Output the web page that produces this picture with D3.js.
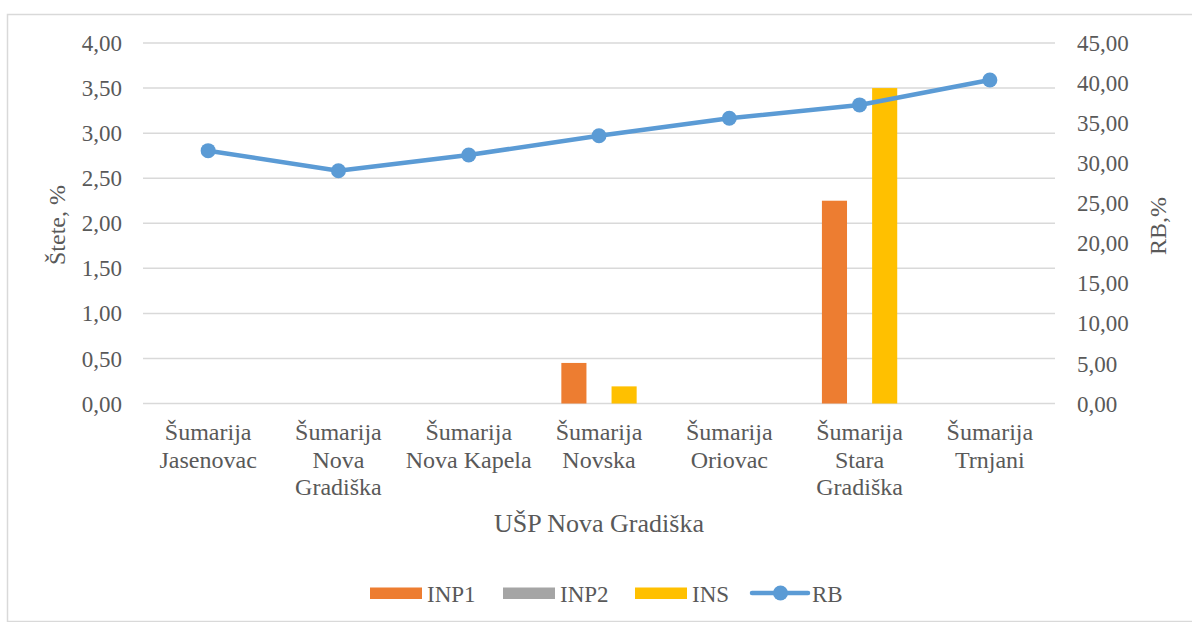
<!DOCTYPE html>
<html>
<head>
<meta charset="utf-8">
<script src="https://cdn.jsdelivr.net/npm/d3@7"></script>
<style>
  html, body { margin: 0; padding: 0; background: #fff; }
  svg { display: block; }
  text { font-family: "Liberation Serif", "Times New Roman", serif; fill: #595959; }
</style>
</head>
<body>
<svg id="chart" width="1192" height="622"></svg>
<script>
// Forestry offices of UŠP Nova Gradiška
const categories = [
  ["Šumarija", "Jasenovac"],
  ["Šumarija", "Nova", "Gradiška"],
  ["Šumarija", "Nova Kapela"],
  ["Šumarija", "Novska"],
  ["Šumarija", "Oriovac"],
  ["Šumarija", "Stara", "Gradiška"],
  ["Šumarija", "Trnjani"]
];
// damage shares (left axis, %)
const inp1 = [0, 0, 0, 0.45, 0, 2.25, 0];
const inp2 = [0, 0, 0, 0, 0, 0, 0];
const ins  = [0, 0, 0, 0.19, 0, 3.50, 0];
// RB (right axis, %)
const rb = [31.56, 29.06, 31.02, 33.43, 35.60, 37.27, 40.39];

const leftTicks = [0, 0.5, 1, 1.5, 2, 2.5, 3, 3.5, 4];
const rightTicks = [0, 5, 10, 15, 20, 25, 30, 35, 40, 45];
const seriesNames = ["INP1", "INP2", "INS"];
const seriesColors = ["#ED7D31", "#A5A5A5", "#FFC000"];
const lineColor = "#5B9BD5";

const fmt = v => v.toFixed(2).replace(".", ",");

const svg = d3.select("#chart");

// outer chart frame
svg.append("rect")
  .attr("x", 7.5).attr("y", 14.5)
  .attr("width", 1200).attr("height", 607)
  .attr("fill", "none").attr("stroke", "#d9d9d9").attr("stroke-width", 1.5);

const plot = { left: 143, right: 1055, top: 43, bottom: 403.5 };

const x = d3.scaleBand()
  .domain(d3.range(categories.length))
  .range([plot.left, plot.right])
  .paddingInner(0).paddingOuter(0);

const yL = d3.scaleLinear().domain([0, 4]).range([plot.bottom, plot.top]);
const yR = d3.scaleLinear().domain([0, 45]).range([plot.bottom, plot.top]);

// bar cluster inside each category, 219% gap width
const gapWidth = 2.19;
const clusterW = x.bandwidth() * 3 / (3 + gapWidth);
const sub = d3.scaleBand().domain(seriesNames).range([0, clusterW]).padding(0);
const groupOffset = (x.bandwidth() - clusterW) / 2;

// gridlines
svg.append("g")
  .selectAll("line")
  .data(leftTicks)
  .join("line")
  .attr("x1", plot.left).attr("x2", plot.right)
  .attr("y1", d => yL(d)).attr("y2", d => yL(d))
  .attr("stroke", "#d9d9d9").attr("stroke-width", 1.5);

// left axis
const leftAxis = svg.append("g")
  .attr("transform", `translate(${plot.left - 21},0)`)
  .call(d3.axisLeft(yL).tickValues(leftTicks).tickFormat(fmt).tickSize(0).tickPadding(0));
leftAxis.select(".domain").remove();
leftAxis.selectAll("text")
  .style("font-family", "Liberation Serif, serif")
  .style("font-size", "23px")
  .attr("fill", "#595959")
  .attr("dy", "0.33em");

// right axis
const rightAxis = svg.append("g")
  .attr("transform", `translate(${plot.right + 22},0)`)
  .call(d3.axisRight(yR).tickValues(rightTicks).tickFormat(fmt).tickSize(0).tickPadding(0));
rightAxis.select(".domain").remove();
rightAxis.selectAll("text")
  .style("font-family", "Liberation Serif, serif")
  .style("font-size", "23px")
  .attr("fill", "#595959")
  .attr("dy", "0.33em");

// bars
const seriesData = [inp1, inp2, ins];
seriesNames.forEach((name, si) => {
  svg.append("g")
    .selectAll("rect")
    .data(seriesData[si].map((v, i) => ({ v, i })).filter(d => d.v > 0))
    .join("rect")
    .attr("x", d => x(d.i) + groupOffset + sub(name))
    .attr("width", sub.bandwidth())
    .attr("y", d => yL(d.v))
    .attr("height", d => yL(0) - yL(d.v))
    .attr("fill", seriesColors[si]);
});

// RB line
const line = d3.line()
  .x((d, i) => x(i) + x.bandwidth() / 2)
  .y(d => yR(d));
svg.append("path")
  .datum(rb)
  .attr("d", line)
  .attr("fill", "none")
  .attr("stroke", lineColor)
  .attr("stroke-width", 4.5)
  .attr("stroke-linejoin", "round");
svg.append("g")
  .selectAll("circle")
  .data(rb)
  .join("circle")
  .attr("cx", (d, i) => x(i) + x.bandwidth() / 2)
  .attr("cy", d => yR(d))
  .attr("r", 7.5)
  .attr("fill", lineColor);

// category labels
const catG = svg.append("g");
categories.forEach((lines, i) => {
  const cx = x(i) + x.bandwidth() / 2;
  const t = catG.append("text")
    .attr("transform", `translate(${cx},440)`)
    .attr("text-anchor", "middle")
    .style("font-size", "24px");
  lines.forEach((s, k) => {
    t.append("tspan").attr("x", 0).attr("y", k * 27.5).text(s);
  });
});

// x axis title
svg.append("text")
  .attr("transform", `translate(${(plot.left + plot.right) / 2},532)`)
  .attr("text-anchor", "middle")
  .style("font-size", "26px")
  .text("UŠP Nova Gradiška");

// y axis titles
svg.append("text")
  .attr("transform", "translate(65,225) rotate(-90)")
  .attr("text-anchor", "middle")
  .style("font-size", "24px")
  .text("Štete, %");
svg.append("text")
  .attr("transform", "translate(1166,226) rotate(-90)")
  .attr("text-anchor", "middle")
  .style("font-size", "24px")
  .text("RB,%");

// legend
const legend = svg.append("g");
const legendItems = [
  { name: "INP1", color: seriesColors[0], x: 370 },
  { name: "INP2", color: seriesColors[1], x: 503 },
  { name: "INS",  color: seriesColors[2], x: 635 }
];
legendItems.forEach(it => {
  legend.append("rect")
    .attr("x", it.x).attr("y", 587.5)
    .attr("width", 52).attr("height", 11.5)
    .attr("fill", it.color);
  legend.append("text")
    .attr("x", it.x + 57).attr("y", 601.5)
    .style("font-size", "23px")
    .text(it.name);
});
legend.append("line")
  .attr("x1", 752).attr("x2", 808).attr("y1", 593).attr("y2", 593)
  .attr("stroke", lineColor).attr("stroke-width", 4.5).attr("stroke-linecap", "round");
legend.append("circle")
  .attr("cx", 780.5).attr("cy", 593).attr("r", 7.5).attr("fill", lineColor);
legend.append("text")
  .attr("x", 812).attr("y", 601.5)
  .style("font-size", "23px")
  .text("RB");
</script>
</body>
</html>
